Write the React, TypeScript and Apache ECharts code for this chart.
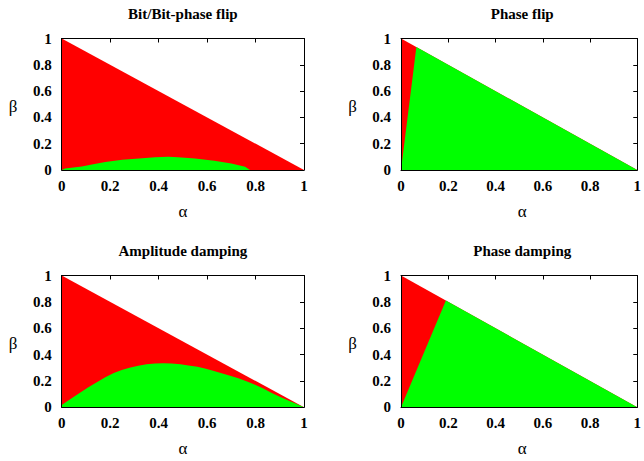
import React, { useEffect, useRef } from "react";
import * as echarts from "echarts";

const titles = ["Bit/Bit-phase flip", "Phase flip", "Amplitude damping", "Phase damping"];
const tickValues = [0, 0.2, 0.4, 0.6, 0.8, 1];

// Whole allowed region alpha + beta <= 1 (red)
const triangleAlpha = [0, 1];
const triangleBeta = [1, 0];

// Green regions (upper boundary, filled down to beta = 0)
const bitFlipAlpha = [0, 0.014, 0.083, 0.13, 0.18, 0.25, 0.32, 0.385, 0.44, 0.48, 0.55, 0.63, 0.7, 0.757, 0.777];
const bitFlipBeta = [0, 0.012, 0.027, 0.043, 0.06, 0.077, 0.088, 0.097, 0.1, 0.097, 0.088, 0.07, 0.05, 0.024, 0];

const phaseFlipAlpha = [0, 0.065, 1];
const phaseFlipBeta = [0, 0.935, 0];

const ampDampAlpha = [0, 0.041, 0.11, 0.18, 0.215, 0.248, 0.28, 0.316, 0.35, 0.385, 0.42, 0.454, 0.49, 0.523, 0.56, 0.591, 0.625, 0.66, 0.695, 0.729, 0.765, 0.798, 0.83, 0.867, 0.9, 0.935, 0.965, 1];
const ampDampBeta = [0.018, 0.068, 0.152, 0.228, 0.26, 0.283, 0.301, 0.315, 0.326, 0.332, 0.335, 0.333, 0.327, 0.318, 0.307, 0.294, 0.277, 0.258, 0.24, 0.22, 0.196, 0.172, 0.145, 0.108, 0.08, 0.052, 0.028, 0];

const phaseDampAlpha = [0, 0.19, 1];
const phaseDampBeta = [0, 0.81, 0];

const greenAlpha = [bitFlipAlpha, phaseFlipAlpha, ampDampAlpha, phaseDampAlpha];
const greenBeta = [bitFlipBeta, phaseFlipBeta, ampDampBeta, phaseDampBeta];

const zip = (a: number[], b: number[]) => a.map((v, i) => [v, b[i]]);

const SERIF = "'Liberation Serif', 'DejaVu Serif', serif";

export default function App() {
  const ref = useRef<HTMLDivElement>(null);
  useEffect(() => {
    if (!ref.current) return;
    const chart = echarts.init(ref.current, undefined, { renderer: "svg" });

    const grids = [
      { left: 61.7, top: 38.5, width: 242.3, height: 131.5 },
      { left: 401, top: 38.5, width: 242.5, height: 131.5 },
      { left: 61.7, top: 275.5, width: 242.3, height: 131.8 },
      { left: 401, top: 275.5, width: 242.5, height: 131.8 },
    ];

    const xAxes: any[] = [];
    const yAxes: any[] = [];
    const series: any[] = [];
    const graphic: any[] = [];

    const fmt = (v: number) => {
      const found = tickValues.find((t) => Math.abs(t - v) < 1e-9);
      return found === undefined ? "" : String(found);
    };

    grids.forEach((g, i) => {
      const common = {
        type: "value",
        min: 0,
        max: 1,
        interval: 0.2,
        gridIndex: i,
        splitLine: { show: false },
        z: 5,
        axisLine: { show: true, onZero: false, lineStyle: { color: "#000", width: 1 } },
      };
      xAxes.push({
        ...common,
        position: "bottom",
        axisTick: { show: false },
        axisLabel: {
          show: true,
          margin: 8,
          color: "#000",
          fontFamily: SERIF,
          fontWeight: "bold",
          fontSize: 15,
          formatter: fmt,
        },
      });
      xAxes.push({
        ...common,
        position: "top",
        axisTick: { show: true, inside: true, length: 4, lineStyle: { color: "#000" } },
        axisLabel: { show: false },
      });
      yAxes.push({
        ...common,
        position: "left",
        axisTick: { show: false },
        axisLabel: {
          show: true,
          margin: 10,
          color: "#000",
          fontFamily: SERIF,
          fontWeight: "bold",
          fontSize: 15,
          formatter: fmt,
        },
      });
      yAxes.push({
        ...common,
        position: "right",
        axisTick: { show: true, inside: true, length: 4, lineStyle: { color: "#000" } },
        axisLabel: { show: false },
      });

      series.push({
        type: "line",
        xAxisIndex: i * 2,
        yAxisIndex: i * 2,
        data: zip(triangleAlpha, triangleBeta),
        symbol: "none",
        lineStyle: { width: 0, color: "#ff0000" },
        areaStyle: { color: "#ff0000", opacity: 1 },
        z: 2,
      });
      series.push({
        type: "line",
        xAxisIndex: i * 2,
        yAxisIndex: i * 2,
        data: zip(greenAlpha[i], greenBeta[i]),
        symbol: "none",
        lineStyle: { width: 0, color: "#00ff00" },
        areaStyle: { color: "#00ff00", opacity: 1 },
        z: 3,
      });

      const cx = g.left + g.width / 2;
      graphic.push({
        type: "text",
        x: cx,
        y: g.top - 25,
        style: {
          text: titles[i],
          fill: "#000",
          font: `bold 15px ${SERIF}`,
          textAlign: "center",
          textVerticalAlign: "middle",
        },
      });
      graphic.push({
        type: "text",
        x: cx,
        y: g.top + g.height + 41,
        style: {
          text: "α",
          fill: "#000",
          font: `17px ${SERIF}`,
          textAlign: "center",
          textVerticalAlign: "middle",
        },
      });
      graphic.push({
        type: "text",
        x: g.left - 48.5,
        y: g.top + 68,
        style: {
          text: "β",
          fill: "#000",
          font: `17px ${SERIF}`,
          textAlign: "center",
          textVerticalAlign: "middle",
        },
      });
    });

    chart.setOption({
      animation: false,
      backgroundColor: "#fff",
      grid: grids.map((g) => ({ ...g, containLabel: false })),
      xAxis: xAxes,
      yAxis: yAxes,
      series,
      graphic,
    });

    return () => chart.dispose();
  }, []);

  return (
    <div
      ref={ref}
      style={{ position: "absolute", left: 0, top: 0, width: 644, height: 461 }}
    />
  );
}
